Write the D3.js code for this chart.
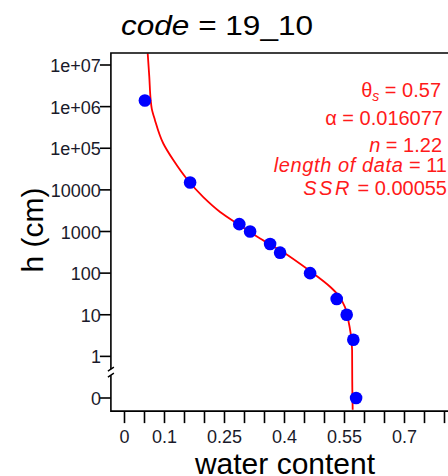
<!DOCTYPE html>
<html>
<head>
<meta charset="utf-8">
<script src="https://cdn.jsdelivr.net/npm/d3@7"></script>
<style>
  html, body { margin: 0; padding: 0; background: #fff; }
  svg { display: block; font-family: "Liberation Sans", Arial, sans-serif; }
</style>
</head>
<body>
<svg id="chart" width="448" height="476"></svg>
<script>
// ---- data ----
const obsTheta = [0.051, 0.164, 0.287, 0.314, 0.364, 0.389, 0.464, 0.5305, 0.5555, 0.572, 0.579];
const obsH     = [1.4e6, 15000, 1500, 1000, 500, 310, 100, 24, 10, 2.5, 0];
const fitTheta = [0.058, 0.062, 0.0655, 0.068, 0.076, 0.097, 0.122, 0.1555, 0.197, 0.239, 0.289, 0.339, 0.389, 0.464, 0.514, 0.535, 0.551, 0.5595, 0.5655, 0.569, 0.5695, 0.5705];
const fitH     = [1.9e7, 5.2e6, 1.44e6, 9.1e5, 4.8e5, 1.3e5, 5.2e4, 1.85e4, 6700, 2950, 1400, 680, 355, 112, 47, 29, 15.5, 7.4, 3.5, 1.4, 0.18, 0.052];
const xTicks = [0, 0.05, 0.1, 0.15, 0.2, 0.25, 0.3, 0.35, 0.4, 0.45, 0.5, 0.55, 0.6, 0.65, 0.7, 0.75, 0.8];
const xTickLabels = [0, 0.1, 0.25, 0.4, 0.55, 0.7];
const yTicks = [0.1, 1, 10, 100, 1000, 10000, 1e5, 1e6, 1e7];
const yTickLabels = ["0", "1", "10", "100", "1000", "10000", "1e+05", "1e+06", "1e+07"];
const params = {thetaS: "0.57", alpha: "0.016077", n: "1.22", len: "11", ssr: "0.00055"};

(function () {
// ---- scales ----
const svg = d3.select("#chart");
const x = d3.scaleLinear().domain([0, 1]).range([124.5, 524.5]);
const y = d3.scaleLog().domain([0.1, 1e7]).range([398, 65]);
const yh = h => y(h <= 0 ? 0.1 : h);

const pLeft = x(-0.034), pRight = x(0.86);
const pTop = y(Math.pow(10, 7.29)), pBottom = y(Math.pow(10, -1.315));

svg.append("clipPath").attr("id", "clip")
  .append("rect").attr("x", pLeft).attr("y", pTop).attr("width", pRight - pLeft).attr("height", pBottom - pTop);

const plot = svg.append("g").attr("clip-path", "url(#clip)");

// fitted curve
const line = d3.line().x(d => x(d[0])).y(d => yh(d[1])).curve(d3.curveMonotoneY);
plot.append("path")
  .datum(fitTheta.map((t, i) => [t, fitH[i]]))
  .attr("d", line)
  .attr("fill", "none").attr("stroke", "#ff0000").attr("stroke-width", 1.8);

// observed points
plot.selectAll("circle.obs").data(obsTheta.map((t, i) => [t, obsH[i]]))
  .join("circle").attr("class", "obs")
  .attr("cx", d => x(d[0])).attr("cy", d => yh(d[1])).attr("r", 6.3)
  .attr("fill", "#0000ff");

// box
svg.append("path")
  .attr("d", `M${pRight},${pTop}H${pLeft}V${pBottom}H${pRight}`)
  .attr("fill", "none").attr("stroke", "#000").attr("stroke-width", 1.6);

// break mark on y axis
const yb = y(Math.pow(10, -0.38));
svg.append("rect").attr("x", pLeft - 3).attr("y", yb - 3).attr("width", 6).attr("height", 6).attr("fill", "#fff");
svg.append("path").attr("d", `M${pLeft-3},${yb-1}L${pLeft+3},${yb-5}M${pLeft-3},${yb+5}L${pLeft+3},${yb+1}`)
  .attr("stroke", "#000").attr("stroke-width", 1.4).attr("fill", "none");

// y ticks
const yAxis = svg.append("g");
yTicks.forEach((v, i) => {
  yAxis.append("line").attr("x1", pLeft - 11).attr("x2", pLeft).attr("y1", y(v)).attr("y2", y(v))
    .attr("stroke", "#000").attr("stroke-width", 1.6);
  yAxis.append("text").attr("x", pLeft - 10).attr("y", y(v) + 7)
    .attr("text-anchor", "end").attr("font-size", 18).attr("fill", "#1a1a2a")
    .text(yTickLabels[i]);
});

// x ticks
const xAxis = svg.append("g");
xTicks.forEach(v => {
  xAxis.append("line").attr("x1", x(v)).attr("x2", x(v)).attr("y1", pBottom).attr("y2", pBottom + 12)
    .attr("stroke", "#000").attr("stroke-width", 1.6);
});
xTickLabels.forEach(v => {
  xAxis.append("text").attr("x", x(v)).attr("y", pBottom + 32)
    .attr("text-anchor", "middle").attr("font-size", 18).attr("fill", "#1a1a2a")
    .text(String(v));
});

// axis titles
svg.append("text").attr("x", 285).attr("y", 474).attr("text-anchor", "middle")
  .attr("font-size", 30).attr("fill", "#000").text("water content");
svg.append("text").attr("transform", "translate(43,230) rotate(-90)").attr("text-anchor", "middle")
  .attr("font-size", 30).attr("fill", "#000").text("h (cm)");

// title
const title = svg.append("text").attr("x", 121).attr("y", 35).attr("font-size", 28).attr("fill", "#000")
  .attr("textLength", 192).attr("lengthAdjust", "spacingAndGlyphs");
title.append("tspan").attr("font-style", "italic").text("code");
title.append("tspan").text(" = 19_10");

// parameter annotations
const red = "#ff1a1a";
const ann = svg.append("g").attr("fill", red).attr("font-size", 20).attr("text-anchor", "end");
const t1 = ann.append("text").attr("x", 441).attr("y", 97);
t1.append("tspan").text("θ");
t1.append("tspan").attr("font-style", "italic").attr("font-size", 14).attr("dy", 4).text("s");
t1.append("tspan").attr("dy", -4).text("  =  " + params.thetaS);
ann.append("text").attr("x", 443).attr("y", 125).text("α = " + params.alpha);
const t3 = ann.append("text").attr("x", 442).attr("y", 152);
t3.append("tspan").attr("font-style", "italic").text("n");
t3.append("tspan").text(" = " + params.n);
const t4 = ann.append("text").attr("x", 447).attr("y", 172);
t4.append("tspan").attr("font-style", "italic").attr("letter-spacing", 0.6).text("length of data");
t4.append("tspan").text(" = " + params.len);
const t5 = ann.append("text").attr("x", 447).attr("y", 195);
t5.append("tspan").attr("font-style", "italic").attr("letter-spacing", 2.5).text("SSR");
t5.append("tspan").text(" = " + params.ssr);
})();
</script>
</body>
</html>
